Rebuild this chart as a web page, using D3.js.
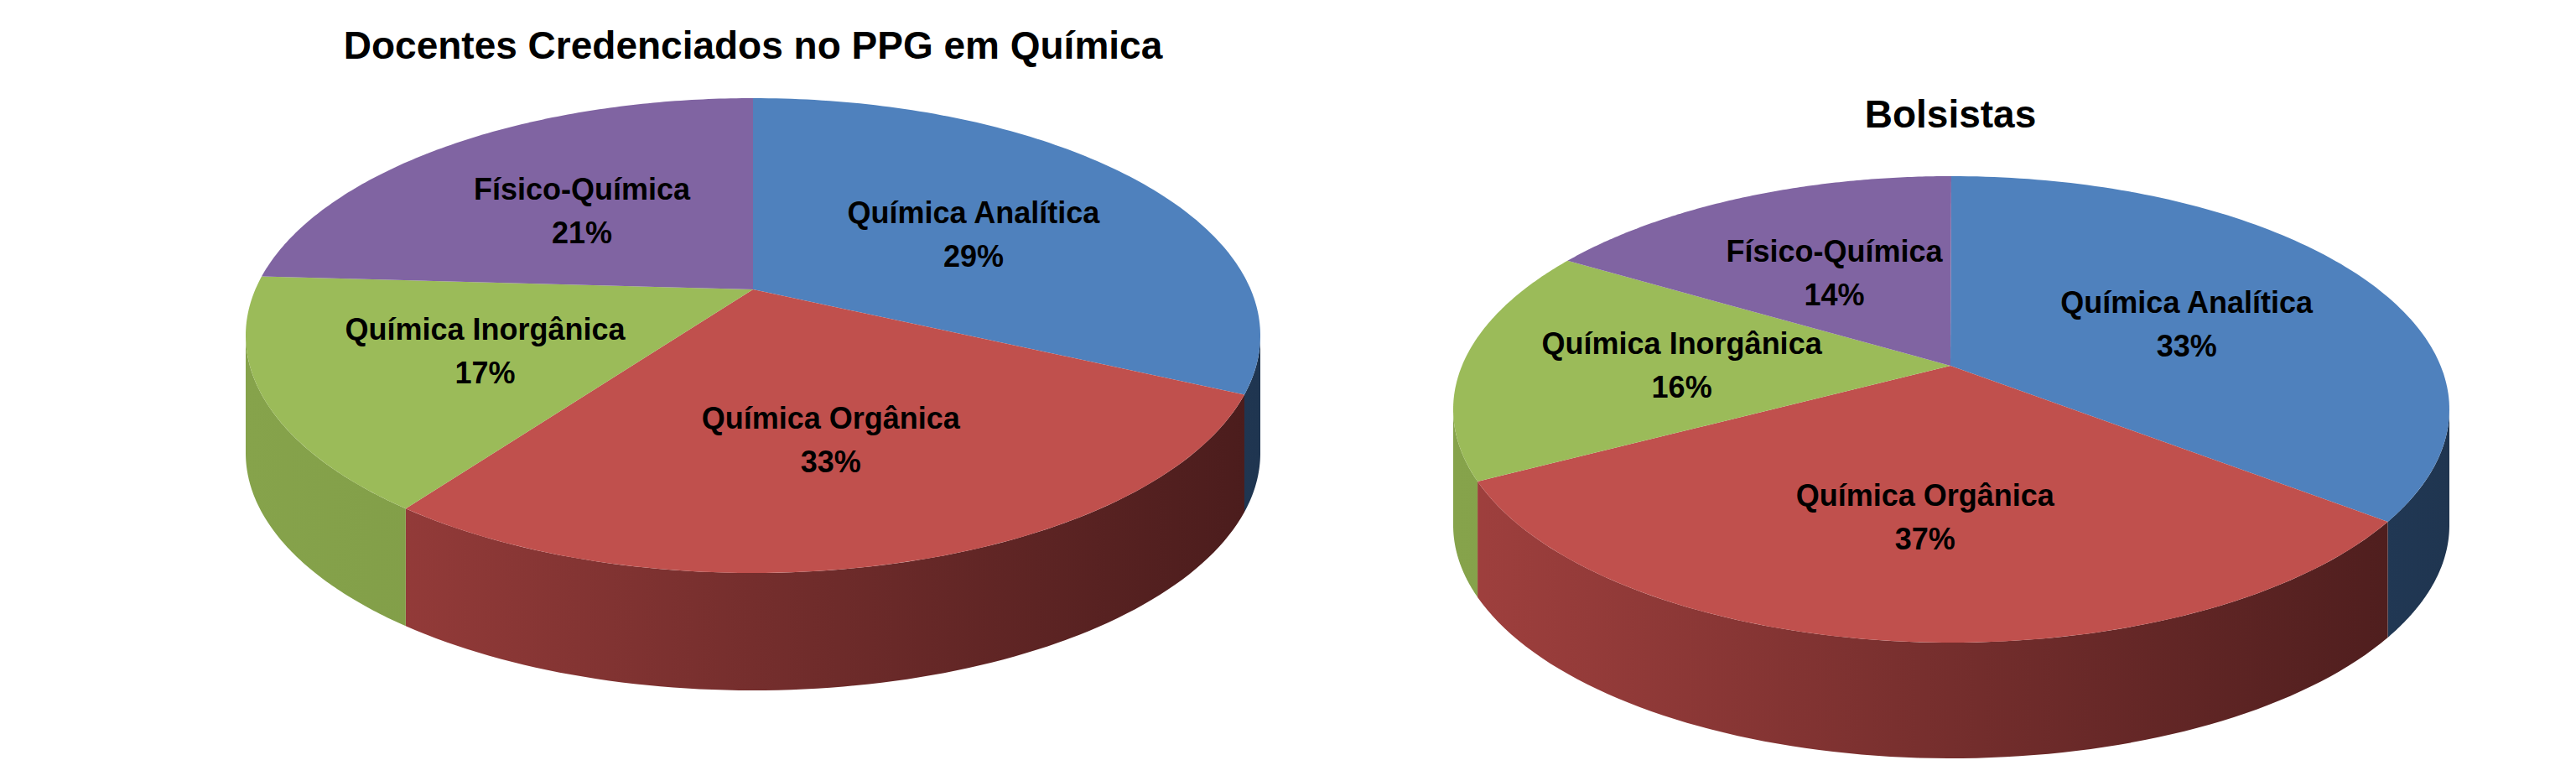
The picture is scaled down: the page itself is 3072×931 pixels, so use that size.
<!DOCTYPE html><html><head><meta charset="utf-8">
<script src="https://cdn.jsdelivr.net/npm/d3@7"></script>
<style>body{margin:0;background:#fff}</style></head><body>
<svg id="c" width="3072" height="931"></svg>
<script>
const categories=["Química Analítica","Química Orgânica","Química Inorgânica","Físico-Química"];
const labels1=["Química Analítica","Química  Orgânica","Química Inorgânica","Físico-Química"];
const docentes=[29,33,17,21];
const bolsistas=[33,37,16,14];
const titles=["Docentes Credenciados no PPG em Química","Bolsistas"];
const topColors=["#4f81bd","#c0504d","#9bbb59","#8064a2"];
const sideLight=["#3a5f8c","#a0403e","#86a34b","#6b5388"];
const sideDark=["#1f3550","#4a1c1c","#6f8a3c","#4a3a60"];
const svg=d3.select("#c");
const defs=svg.append("defs");
const charts=[
 {vals:docentes,labs:labels1,title:titles[0],cx:898,cy:400,rx:605,ry:283,ax:898,ay:345,depth:140,ty:58},
 {vals:bolsistas,labs:categories,title:titles[1],cx:2327,cy:488,rx:594,ry:278,ax:2326,ay:436,depth:138,ty:140}
];
charts.forEach((c,ci)=>{
 const g=svg.append("g");
 const arcs=d3.pie().sort(null).value(d=>d)(c.vals);
 const P=(t,dy=0)=>[c.cx+c.rx*Math.sin(t),c.cy-c.ry*Math.cos(t)+dy];
 // sides
 arcs.forEach((a,i)=>{
  const s=Math.max(a.startAngle,Math.PI/2),e=Math.min(a.endAngle,3*Math.PI/2);
  if(e<=s)return;
  const id="gr"+ci+"_"+i;
  const lg=defs.append("linearGradient").attr("id",id).attr("gradientUnits","userSpaceOnUse")
   .attr("x1",c.cx-c.rx).attr("x2",c.cx+c.rx).attr("y1",0).attr("y2",0);
  lg.append("stop").attr("offset","0%").attr("stop-color",sideLight[i]);
  lg.append("stop").attr("offset","100%").attr("stop-color",sideDark[i]);
  const pts=[];const n=80;
  for(let k=0;k<=n;k++)pts.push(P(s+(e-s)*k/n));
  for(let k=n;k>=0;k--)pts.push(P(s+(e-s)*k/n,c.depth));
  g.append("path").attr("d",d3.line()(pts)+"Z").attr("fill",`url(#${id})`);
 });
 // tops
 arcs.forEach((a,i)=>{
  const pts=[[c.ax,c.ay]];const n=120;
  for(let k=0;k<=n;k++)pts.push(P(a.startAngle+(a.endAngle-a.startAngle)*k/n));
  g.append("path").attr("d",d3.line()(pts)+"Z").attr("fill",topColors[i]);
 });
 arcs.forEach((a,i)=>{
  const m=(a.startAngle+a.endAngle)/2,p=P(m),f=0.55;
  const x=c.ax+f*(p[0]-c.ax),y=c.ay+f*(p[1]-c.ay);
  const t=g.append("text").attr("text-anchor","middle").attr("font-family","Liberation Sans Narrow, Arial Narrow, sans-serif")
   .attr("font-weight","bold").attr("font-size",36).attr("fill","#000");
  t.append("tspan").attr("x",x).attr("y",y-14).text(c.labs[i]);
  t.append("tspan").attr("x",x).attr("y",y+38).text(c.vals[i]+"%");
 });
 g.append("text").attr("x",c.ax).attr("y",c.ty+12).attr("text-anchor","middle")
  .attr("font-family","Liberation Sans Narrow, Arial Narrow, sans-serif").attr("font-weight","bold")
  .attr("font-size",46).text(c.title);
});
</script></body></html>
